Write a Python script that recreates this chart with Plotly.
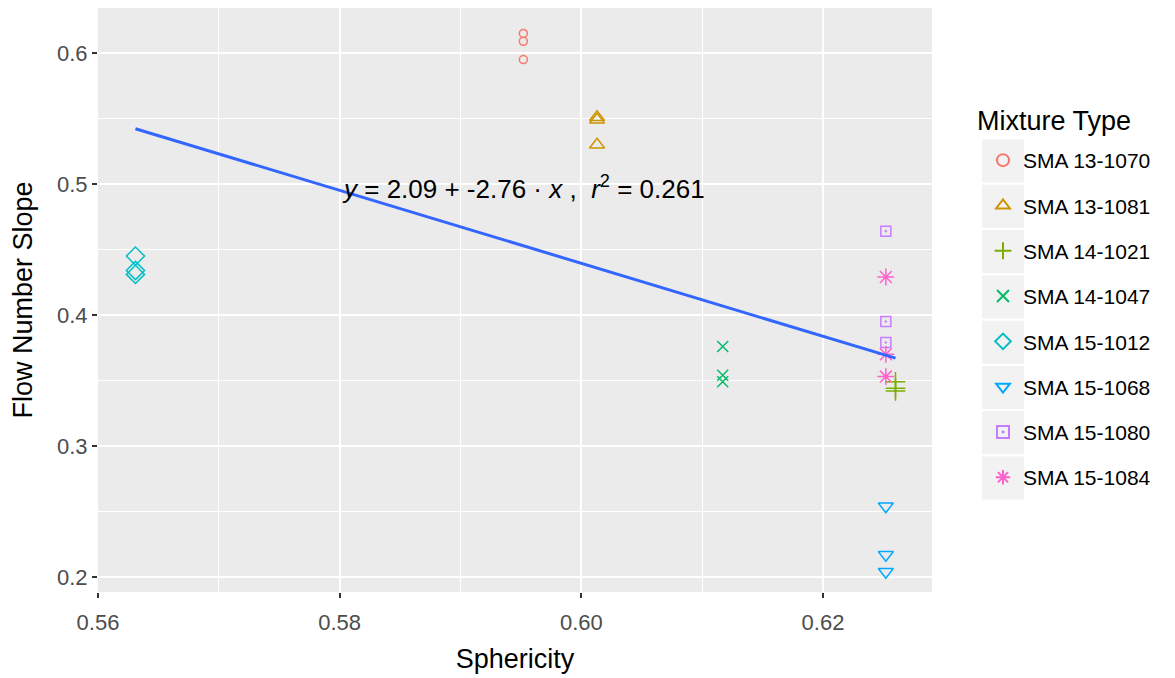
import numpy as np
import plotly.graph_objects as go

mixtures = ["SMA 13-1070", "SMA 13-1081", "SMA 14-1021", "SMA 14-1047",
            "SMA 15-1012", "SMA 15-1068", "SMA 15-1080", "SMA 15-1084"]
sphericity = {
    "SMA 13-1070": [0.5952, 0.5952, 0.5952],
    "SMA 13-1081": [0.6013, 0.6013, 0.6013],
    "SMA 14-1021": [0.6260, 0.6260, 0.6260],
    "SMA 14-1047": [0.6117, 0.6117, 0.6117],
    "SMA 15-1012": [0.5631, 0.5631, 0.5631],
    "SMA 15-1068": [0.6252, 0.6252, 0.6252],
    "SMA 15-1080": [0.6252, 0.6252, 0.6252],
    "SMA 15-1084": [0.6252, 0.6252, 0.6252],
}
flow_slope = {
    "SMA 13-1070": [0.615, 0.609, 0.595],
    "SMA 13-1081": [0.551, 0.549, 0.530],
    "SMA 14-1021": [0.349, 0.344, 0.342],
    "SMA 14-1047": [0.376, 0.354, 0.349],
    "SMA 15-1012": [0.445, 0.434, 0.431],
    "SMA 15-1068": [0.254, 0.217, 0.204],
    "SMA 15-1080": [0.464, 0.395, 0.379],
    "SMA 15-1084": [0.429, 0.370, 0.353],
}
colors = ["#F8766D", "#CD9600", "#7CAE00", "#00BE67",
          "#00BFC4", "#00A9FF", "#C77CFF", "#FF61CC"]
symbols = ["circle-open", "triangle-up-open", "cross-thin-open", "x-thin-open",
           "diamond-open", "triangle-down-open", "square-open-dot", "asterisk-open"]
sizes = [8, 13, 14, 11, 14, 13, 10, 14]
x_ticks = [0.56, 0.58, 0.60, 0.62]
x_tick_labels = ["0.56", "0.58", "0.60", "0.62"]
y_ticks = [0.2, 0.3, 0.4, 0.5, 0.6]
y_tick_labels = ["0.2", "0.3", "0.4", "0.5", "0.6"]
eq_text = "<i>y</i> = 2.09 + -2.76 · <i>x</i> ,  <i>r</i><sup>2</sup> = 0.261"
legend_title = "Mixture Type"

FONT = "Liberation Sans, Arial, sans-serif"
OFF = 8  # default page body margin
W, H = 1175 - OFF, 678 - OFF
ML, MR, MT, MB = 98 - OFF, 243, 8 - OFF, 86
PW, PH = W - ML - MR, H - MT - MB


def px_x(p):
    return (p - OFF - ML) / PW


def px_y(p):
    return 1 - (p - OFF - MT) / PH


fig = go.Figure()

for i, m in enumerate(mixtures):
    fig.add_trace(go.Scatter(
        x=sphericity[m], y=flow_slope[m], mode="markers", name=m,
        legendgroup=m,
        marker=dict(symbol=symbols[i], color=colors[i], size=sizes[i],
                    line=dict(color=colors[i], width=1.5)),
    ))

all_x = np.concatenate([sphericity[m] for m in mixtures])
all_y = np.concatenate([flow_slope[m] for m in mixtures])
slope, intercept = np.polyfit(all_x, all_y, 1)
xl = np.linspace(all_x.min(), all_x.max(), 50)
fig.add_trace(go.Scatter(x=xl, y=intercept + slope * xl, mode="lines",
                         line=dict(color="#3366FF", width=3), showlegend=False,
                         hoverinfo="skip"))

fig.add_annotation(x=0.5952, y=0.497, text=eq_text, showarrow=False,
                   font=dict(family=FONT, size=26, color="black"),
                   xanchor="center", yanchor="middle")

# legend title
fig.add_annotation(xref="paper", yref="paper", x=px_x(975), y=px_y(121),
                   text=legend_title, showarrow=False, xanchor="left", yanchor="middle",
                   font=dict(family=FONT, size=27, color="black"))

# legend key backgrounds
pitch = 45.3
for i in range(len(mixtures)):
    cy = 161 + pitch * i
    fig.add_shape(type="rect", xref="paper", yref="paper",
                  x0=px_x(982), x1=px_x(1024), y0=px_y(cy - 21.5), y1=px_y(cy + 21.5),
                  fillcolor="#F2F2F2", line=dict(width=0), layer="below")

axis_common = dict(showgrid=True, gridcolor="white", gridwidth=2,
                   zeroline=False, ticks="outside", ticklen=5,
                   tickcolor="#333333", tickwidth=1.5,
                   tickfont=dict(family=FONT, size=22, color="#4D4D4D"),
                   showline=False, automargin=False)

fig.update_layout(
    width=W, height=H,
    margin=dict(l=ML, r=MR, t=MT, b=MB, autoexpand=False),
    plot_bgcolor="#EBEBEB", paper_bgcolor="white",
    font=dict(family=FONT),
    xaxis=dict(range=[0.56, 0.62902], tickvals=x_ticks, ticktext=x_tick_labels,
               title=dict(text="Sphericity", font=dict(family=FONT, size=27, color="black"),
                          standoff=14), ticklabelstandoff=6, **axis_common),
    yaxis=dict(range=[0.1885, 0.6344], tickvals=y_ticks, ticktext=y_tick_labels,
               title=dict(text="Flow Number Slope", font=dict(family=FONT, size=27, color="black"),
                          standoff=16), **axis_common),
    legend=dict(font=dict(family=FONT, size=21, color="black"),
                x=px_x(983), xanchor="left", y=px_y(140), yanchor="top",
                tracegroupgap=15, itemsizing="constant", bgcolor="rgba(0,0,0,0)"),
)
fig.update_xaxes(minor=dict(tickvals=[0.57, 0.59, 0.61], showgrid=True,
                            gridcolor="white", gridwidth=1, ticks=""))
fig.update_yaxes(minor=dict(tickvals=[0.25, 0.35, 0.45, 0.55], showgrid=True,
                            gridcolor="white", gridwidth=1, ticks=""))

fig.write_html("out.html")
